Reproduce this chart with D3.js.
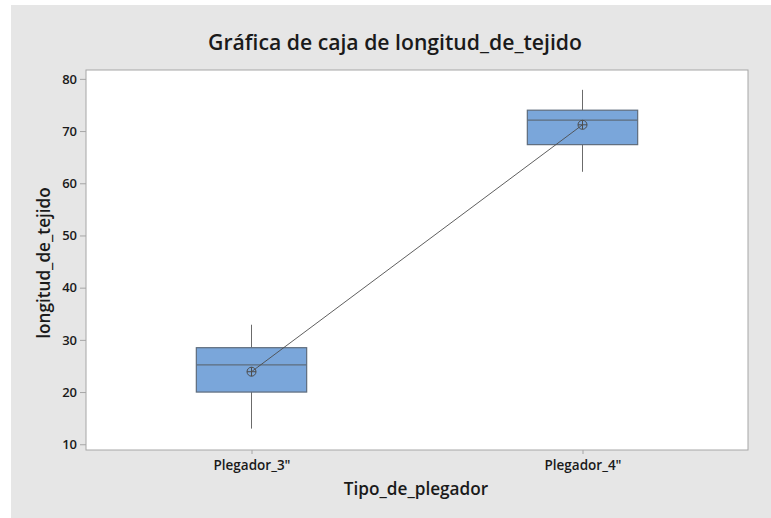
<!DOCTYPE html>
<html>
<head>
<meta charset="utf-8">
<script src="https://cdn.jsdelivr.net/npm/d3@7"></script>
<style>
  html, body { margin: 0; padding: 0; background: #fff; }
  text { font-family: "Open Sans", "Noto Sans", sans-serif; }
</style>
</head>
<body>
<div id="chart"></div>
<script>
// ============================================================================
// DATA
// ============================================================================

const categories = ['Plegador_3"', 'Plegador_4"'];
const whiskerLow  = [13, 62.2];
const q1          = [20, 67.4];
const medians     = [25.2, 72.1];
const q3          = [28.5, 74.0];
const whiskerHigh = [32.9, 77.9];
const means       = [23.9, 71.2];
const yTicks      = [10, 20, 30, 40, 50, 60, 70, 80];

const boxes = categories.map((c, i) => ({
    cat: c, lo: whiskerLow[i], q1: q1[i], med: medians[i],
    q3: q3[i], hi: whiskerHigh[i], mean: means[i]
}));

// ============================================================================
// SETUP
// ============================================================================

const W = 771, H = 518;
const plot = { left: 86, right: 748, top: 70, bottom: 450 };

const svg = d3.select("#chart").append("svg")
    .attr("width", W).attr("height", H);

svg.append("rect")
    .attr("x", 11).attr("y", 5)
    .attr("width", W - 11).attr("height", H - 5)
    .attr("fill", "#e6e6e6");

svg.append("rect")
    .attr("x", plot.left).attr("y", plot.top)
    .attr("width", plot.right - plot.left)
    .attr("height", plot.bottom - plot.top)
    .attr("fill", "#fff")
    .attr("stroke", "#a6a6a6");

const x = d3.scalePoint()
    .domain(categories)
    .range([plot.left, plot.right])
    .padding(0.5);

const y = d3.scaleLinear()
    .domain([8.9, 81.7])
    .range([plot.bottom, plot.top]);

// ============================================================================
// AXES
// ============================================================================

const yAxis = svg.append("g")
    .attr("transform", `translate(${plot.left},0)`)
    .call(d3.axisLeft(y).tickValues(yTicks).tickSize(6).tickPadding(3));

const xAxis = svg.append("g")
    .attr("transform", `translate(0,${plot.bottom})`)
    .call(d3.axisBottom(x).tickSize(4).tickPadding(6));

[yAxis, xAxis].forEach(g => {
    g.select(".domain").remove();
    g.selectAll(".tick line").attr("stroke", "#a6a6a6");
    g.selectAll(".tick text")
        .attr("fill", "#1a1a1a")
        .style("font-family", '"Open Sans", sans-serif')
        .style("font-weight", "600");
});
yAxis.selectAll(".tick text").style("font-size", "13px");
xAxis.selectAll(".tick text").style("font-size", "13.5px");

svg.append("text")
    .attr("x", 395).attr("y", 50)
    .attr("text-anchor", "middle")
    .style("font-size", "21.2px")
    .style("font-weight", "600")
    .attr("fill", "#1a1a1a")
    .text("Gráfica de caja de longitud_de_tejido");

svg.append("text")
    .attr("x", 416)
    .attr("y", 495)
    .attr("text-anchor", "middle")
    .style("font-size", "17.2px")
    .style("font-weight", "600")
    .attr("fill", "#1a1a1a")
    .text("Tipo_de_plegador");

svg.append("text")
    .attr("transform", "rotate(-90)")
    .attr("x", -263).attr("y", 50)
    .attr("text-anchor", "middle")
    .style("font-size", "17.2px")
    .style("font-weight", "600")
    .attr("fill", "#1a1a1a")
    .text("longitud_de_tejido");

// ============================================================================
// BOXES
// ============================================================================

const boxW = x.step() / 3;
const g = svg.append("g");

g.selectAll("line.whisker-hi")
    .data(boxes)
    .join("line")
    .attr("x1", d => x(d.cat)).attr("x2", d => x(d.cat))
    .attr("y1", d => y(d.hi)).attr("y2", d => y(d.q3))
    .attr("stroke", "#6b6b6b");

g.selectAll("line.whisker-lo")
    .data(boxes)
    .join("line")
    .attr("x1", d => x(d.cat)).attr("x2", d => x(d.cat))
    .attr("y1", d => y(d.q1)).attr("y2", d => y(d.lo))
    .attr("stroke", "#6b6b6b");

g.selectAll("rect.box")
    .data(boxes)
    .join("rect")
    .attr("x", d => x(d.cat) - boxW / 2)
    .attr("y", d => y(d.q3))
    .attr("width", boxW)
    .attr("height", d => y(d.q1) - y(d.q3))
    .attr("fill", "#7aa6da")
    .attr("stroke", "#5e6c7c")
    .attr("stroke-width", 1.2);

g.selectAll("line.median")
    .data(boxes)
    .join("line")
    .attr("x1", d => x(d.cat) - boxW / 2)
    .attr("x2", d => x(d.cat) + boxW / 2)
    .attr("y1", d => y(d.med)).attr("y2", d => y(d.med))
    .attr("stroke", "#5e6c7c")
    .attr("stroke-width", 1.2);

// mean connect line
g.append("path")
    .datum(boxes)
    .attr("d", d3.line().x(d => x(d.cat)).y(d => y(d.mean)))
    .attr("fill", "none")
    .attr("stroke", "#4d4d4d")
    .attr("stroke-width", 0.9);

// mean symbols: circle with cross
const r = 4.5;
const mean = g.selectAll("g.mean")
    .data(boxes)
    .join("g")
    .attr("transform", d => `translate(${x(d.cat)},${y(d.mean)})`);

mean.append("circle")
    .attr("r", r)
    .attr("fill", "none")
    .attr("stroke", "#4d4d4d");

mean.append("path")
    .attr("d", `M${-r},0H${r}M0,${-r}V${r}`)
    .attr("stroke", "#4d4d4d");
</script>
</body>
</html>
